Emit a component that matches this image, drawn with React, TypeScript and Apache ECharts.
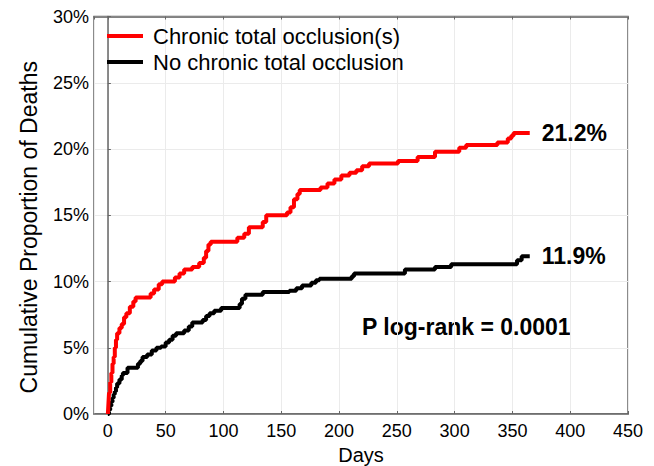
import React, { useEffect, useRef } from "react";
import * as echarts from "echarts";

const seriesNames = ["Chronic total occlusion(s)", "No chronic total occlusion"];

// [day, cumulative % of deaths]
const ctoData: [number, number][] = [
  [0, 0], [0.5, 0.8], [1, 1.6], [2, 2.4], [3, 3.1], [4, 3.8], [5, 4.3], [6, 5.0],
  [7, 5.6], [8, 6.1], [10, 6.5], [12, 6.8], [14, 7.3], [16, 7.6], [19, 8.1], [22, 8.5],
  [24, 8.8], [37, 9.1], [40, 9.4], [44, 9.8], [47, 10.0], [58, 10.3], [62, 10.6],
  [66, 10.9], [73, 11.1], [79, 11.4], [83, 11.8], [85, 12.3], [87, 12.8], [89, 13.0],
  [112, 13.3], [118, 13.6], [122, 14.1], [134, 14.5], [137, 15.0], [155, 15.2],
  [158, 15.6], [161, 16.2], [164, 16.6], [166, 16.9], [184, 17.1], [190, 17.4],
  [196, 17.7], [202, 18.0], [209, 18.2], [215, 18.4], [220, 18.7], [226, 18.9],
  [251, 19.1], [268, 19.4], [283, 19.8], [304, 20.1], [310, 20.3], [337, 20.5],
  [346, 20.8], [349, 21.0], [351, 21.2], [365, 21.2],
];

const noCtoData: [number, number][] = [
  [0, 0], [1, 0.3], [2, 0.6], [3, 0.9], [4, 1.2], [5, 1.5], [6, 1.7], [7, 2.0],
  [8, 2.3], [10, 2.6], [12, 2.9], [13, 3.1], [17, 3.5], [26, 3.8], [28, 4.0],
  [30, 4.3], [34, 4.5], [38, 4.8], [42, 5.0], [46, 5.1], [50, 5.4], [53, 5.6],
  [56, 5.9], [59, 6.1], [66, 6.3], [70, 6.6], [73, 6.9], [82, 7.1], [85, 7.4],
  [88, 7.6], [92, 7.8], [98, 8.0], [114, 8.3], [116, 8.7], [119, 9.0], [134, 9.2],
  [157, 9.3], [163, 9.5], [168, 9.7], [176, 9.9], [180, 10.1], [183, 10.2],
  [211, 10.4], [213, 10.6], [257, 10.9], [283, 11.1], [297, 11.3], [354, 11.6],
  [358, 11.9], [365, 11.9],
];

const endLabels = ["21.2%", "11.9%"];
const pValueText = "P log-rank = 0.0001";

const FONT = "'Liberation Sans', Arial, sans-serif";

export default function App() {
  const ref = useRef<HTMLDivElement>(null);
  useEffect(() => {
    if (!ref.current) return;
    const chart = echarts.init(ref.current, undefined, { renderer: "svg" });
    const axisColor = "#666";
    chart.setOption({
      animation: false,
      backgroundColor: "#fff",
      textStyle: { fontFamily: FONT },
      grid: {
        left: 94,
        right: 26,
        top: 16.5,
        bottom: 52,
        outerBoundsMode: "none",
        containLabel: false,
        show: true,
        borderColor: axisColor,
        borderWidth: 1.5,
      },
      legend: {
        orient: "vertical",
        left: 107,
        top: 25,
        padding: 0,
        itemWidth: 36,
        itemHeight: 4,
        itemGap: 4,
        icon: "rect",
        data: seriesNames,
        textStyle: {
          fontFamily: FONT,
          fontSize: 22,
          color: "#000",
          padding: [0, 0, 0, 5],
        },
      },
      xAxis: [
        {
          type: "value",
          min: -12,
          max: 450,
          splitNumber: 9,
          name: "Days",
          nameLocation: "middle",
          nameGap: 31,
          nameTextStyle: { fontFamily: FONT, fontSize: 20, color: "#000" },
          axisLine: { show: true, lineStyle: { color: axisColor, width: 1.5 } },
          axisTick: { show: true, inside: true, length: 3, lineStyle: { color: axisColor } },
          axisLabel: {
            fontFamily: FONT,
            fontSize: 18,
            color: "#000",
            margin: 8,
            showMinLabel: false,
          },
          splitLine: { show: true, lineStyle: { color: "#ebebeb", width: 1 } },
        },
        {
          type: "value",
          position: "top",
          min: -12,
          max: 450,
          splitNumber: 9,
          axisLine: { show: true, lineStyle: { color: axisColor, width: 1.5 } },
          axisTick: { show: true, inside: true, length: 3, lineStyle: { color: axisColor } },
          axisLabel: { show: false },
          splitLine: { show: false },
        },
      ],
      yAxis: {
        type: "value",
        min: 0,
        max: 30,
        interval: 5,
        name: "Cumulative Proportion of Deaths",
        nameLocation: "middle",
        nameGap: 54,
        nameTextStyle: {
          fontFamily: FONT,
          fontSize: 23,
          color: "#000",
          padding: [0, 24, 0, 0],
        },
        axisLine: { show: true, lineStyle: { color: axisColor, width: 1.5 } },
        axisTick: { show: true, inside: true, length: 3, lineStyle: { color: axisColor } },
        axisLabel: {
          fontFamily: FONT,
          fontSize: 18,
          color: "#000",
          margin: 5,
          formatter: "{value}%",
        },
        splitLine: { show: true, lineStyle: { color: "#ebebeb", width: 1 } },
      },
      series: [
        {
          name: seriesNames[0],
          type: "line",
          step: "end",
          data: ctoData,
          showSymbol: false,
          symbol: "none",
          color: "#ff0000",
          lineStyle: { color: "#ff0000", width: 4 },
          endLabel: {
            show: true,
            formatter: endLabels[0],
            distance: 12,
            fontFamily: FONT,
            fontSize: 23,
            fontWeight: "bold",
            color: "#000",
          },
          z: 3,
        },
        {
          name: seriesNames[1],
          type: "line",
          step: "end",
          data: noCtoData,
          showSymbol: false,
          symbol: "none",
          color: "#000000",
          lineStyle: { color: "#000000", width: 4 },
          endLabel: {
            show: true,
            formatter: endLabels[1],
            distance: 12,
            fontFamily: FONT,
            fontSize: 23,
            fontWeight: "bold",
            color: "#000",
          },
          z: 2,
        },
      ],
      graphic: [
        {
          type: "text",
          left: 362,
          top: 315,
          style: {
            text: pValueText,
            fontFamily: FONT,
            fontSize: 23,
            fontWeight: "bold",
            fill: "#000",
          },
        },
      ],
    });
    return () => chart.dispose();
  }, []);
  return (
    <div
      ref={ref}
      style={{ position: "fixed", left: 0, top: 0, width: 654, height: 466 }}
    />
  );
}
